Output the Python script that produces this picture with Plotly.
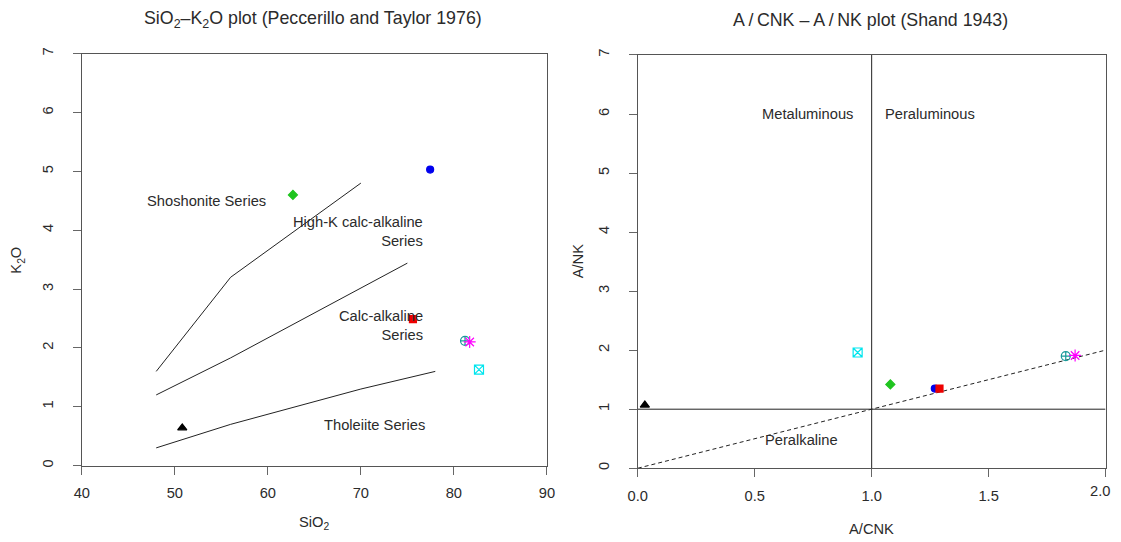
import plotly.graph_objects as go

# ---- data ----
sample_sio2 = [50.8, 62.7, 77.45, 75.6, 81.2, 82.7, 81.7]
sample_k2o = [0.64, 4.6, 5.03, 2.49, 2.12, 1.63, 2.1]
sample_acnk = [0.03, 1.08, 1.27, 1.29, 1.83, 0.94, 1.87]
sample_ank = [1.07, 1.42, 1.35, 1.35, 1.9, 1.96, 1.91]

# Peccerillo & Taylor boundaries
bnd1_x = [48, 56, 70]
bnd1_y = [1.6, 3.2, 4.8]
bnd2_x = [48, 56, 75]
bnd2_y = [1.2, 1.83, 3.44]
bnd3_x = [48, 56, 70, 78]
bnd3_y = [0.3, 0.7, 1.3, 1.6]

# Shand lines
shand_v_x = [1, 1]
shand_v_y = [0, 7]
shand_h_x = [0, 2]
shand_h_y = [1, 1]
shand_d_x = [0, 2]
shand_d_y = [0, 2]

# tick labels
left_xticks = [40, 50, 60, 70, 80, 90]
right_xticks = [0, 0.5, 1, 1.5, 2]
right_xticktext = ["0.0", "0.5", "1.0", "1.5", ""]
last_right_tick = "2.0"
yticks = [0, 1, 2, 3, 4, 5, 6, 7]

# ---- styles ----
sym = ["triangle-up", "diamond", "circle", "square", "circle-cross-open", "square-x-open", "asterisk-open"]
col = ["black", "#1fc41f", "#0000ee", "#ee0000", "#1a9a9a", "#00e5ee", "#ff00ff"]
siz = [8, 7, 7, 7, 9, 9, 10]

W, H = 1121, 542
FONT = "Liberation Sans, Arial, sans-serif"
TXT = "#2b2b2b"
FS = 14.7
FT = 17.8

# compensation for the observed page-to-picture mapping
def X(x):
    return (x - 17.46) / 0.9846

def Y(y):
    return (y - 3.3) / 0.988 - 8

def px(x):
    return X(x) / W

def py(y):
    return 1 - Y(y) / H

fig = go.Figure()

line_style = dict(color="#222222", width=1)
for bx, by in [(bnd1_x, bnd1_y), (bnd2_x, bnd2_y), (bnd3_x, bnd3_y)]:
    fig.add_trace(go.Scatter(x=bx, y=by, mode="lines", line=line_style,
                             xaxis="x", yaxis="y", showlegend=False, hoverinfo="skip"))

for i in range(len(sample_sio2)):
    fig.add_trace(go.Scatter(x=[sample_sio2[i]], y=[sample_k2o[i]], mode="markers",
                             marker=dict(symbol=sym[i], color=col[i], size=siz[i],
                                         line=dict(color=col[i], width=1.2)),
                             xaxis="x", yaxis="y", showlegend=False))

fig.add_trace(go.Scatter(x=shand_v_x, y=shand_v_y, mode="lines", line=line_style,
                         xaxis="x2", yaxis="y2", showlegend=False, hoverinfo="skip"))
fig.add_trace(go.Scatter(x=shand_h_x, y=shand_h_y, mode="lines", line=line_style,
                         xaxis="x2", yaxis="y2", showlegend=False, hoverinfo="skip"))
fig.add_trace(go.Scatter(x=shand_d_x, y=shand_d_y, mode="lines",
                         line=dict(color="#222222", width=1, dash="4px,3px"),
                         xaxis="x2", yaxis="y2", showlegend=False, hoverinfo="skip"))

for i in range(len(sample_acnk)):
    fig.add_trace(go.Scatter(x=[sample_acnk[i]], y=[sample_ank[i]], mode="markers",
                             marker=dict(symbol=sym[i], color=col[i], size=siz[i],
                                         line=dict(color=col[i], width=1.2)),
                             xaxis="x2", yaxis="y2", showlegend=False))

axis_common = dict(showgrid=False, zeroline=False, showline=True, mirror=True,
                   linecolor="#555555", linewidth=1, ticks="outside", ticklen=8,
                   tickcolor="#666666", tickwidth=1,
                   tickfont=dict(family=FONT, size=FS, color=TXT))

fig.update_layout(
    width=W, height=H, margin=dict(l=0, r=0, t=0, b=0),
    plot_bgcolor="white", paper_bgcolor="white",
    xaxis=dict(domain=[px(81.3), px(546.7)], range=[40, 90], tickvals=left_xticks,
               anchor="y", ticklabelstandoff=6, **axis_common),
    yaxis=dict(domain=[py(464), py(51)], range=[0, 7], tickvals=yticks,
               anchor="x", tickangle=-90, ticklabelstandoff=14, **axis_common),
    xaxis2=dict(domain=[px(637.7), px(1105.7)], range=[0, 2], tickvals=right_xticks,
                ticktext=right_xticktext,
                anchor="y2", ticklabelstandoff=6, **axis_common),
    yaxis2=dict(domain=[py(466.7), py(52.3)], range=[0, 7], tickvals=yticks,
                anchor="x2", tickangle=-90, ticklabelstandoff=14, **axis_common),
)

ann = []
def t(text, x, y, xref, yref, size=FS, xanchor="center", yanchor="middle", align="center", textangle=0):
    ann.append(dict(text=text, x=x, y=y, xref=xref, yref=yref, showarrow=False,
                    xanchor=xanchor, yanchor=yanchor, align=align, textangle=textangle,
                    font=dict(family=FONT, size=size, color=TXT)))

# last tick label of right x axis, kept inside the visible area
t(last_right_tick, px(1112), py(490), "paper", "paper", xanchor="right")
# titles
t("SiO<sub>2</sub>\u2013K<sub>2</sub>O plot (Peccerillo and Taylor 1976)", px(313), py(17), "paper", "paper", size=FT)
t("A\u2009/\u2009CNK \u2013 A\u2009/\u2009NK plot (Shand 1943)", px(871), py(17), "paper", "paper", size=FT)
# axis titles
t("SiO<sub>2</sub>", px(314), py(522), "paper", "paper")
t("K<sub>2</sub>O", px(17), py(258), "paper", "paper", textangle=-90)
t("A/CNK", px(871.7), py(528), "paper", "paper")
t("A/NK", px(578), py(259), "paper", "paper", textangle=-90)
# field labels left
t("Shoshonite Series", 53.4, 4.49, "x", "y")
t("High-K calc-alkaline<br>Series", 76.9, 3.97, "x", "y", xanchor="right", align="right")
t("Calc-alkaline<br>Series", 76.9, 2.38, "x", "y", xanchor="right", align="right")
t("Tholeiite Series", 71.5, 0.69, "x", "y")
# field labels right
t("Metaluminous", 0.93, 6, "x2", "y2", xanchor="right")
t("Peraluminous", 1.05, 6, "x2", "y2", xanchor="left")
t("Peralkaline", 0.70, 0.48, "x2", "y2")

fig.update_layout(annotations=ann)
fig.write_html("out.html")
